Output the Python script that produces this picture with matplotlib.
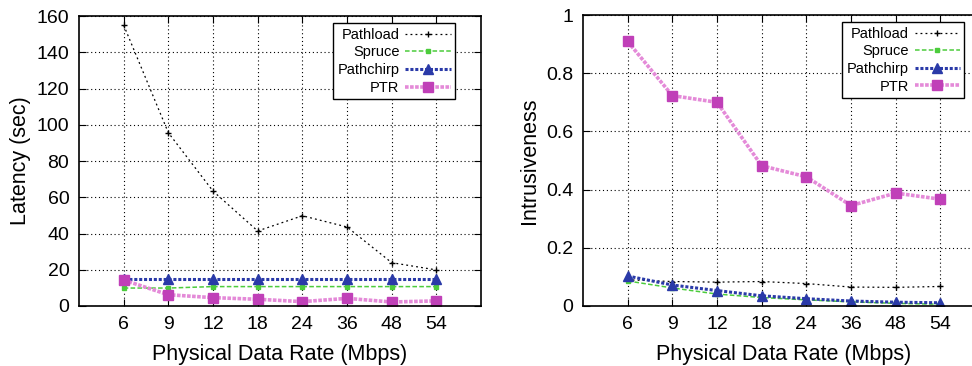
import matplotlib

matplotlib.use("Agg")
import matplotlib.pyplot as plt
from matplotlib.ticker import FormatStrFormatter, FuncFormatter
import numpy as np

rates = ["6", "9", "12", "18", "24", "36", "48", "54"]

lat_pathload = [155, 95.6, 63.4, 41.4, 49.8, 43.6, 23.9, 19.9]
lat_spruce = [9.9, 9.9, 10.7, 10.7, 10.7, 10.7, 10.7, 10.7]
lat_pathchirp = [14.7, 14.7, 14.7, 14.7, 14.7, 14.7, 14.7, 14.7]
lat_ptr = [14.3, 6.2, 4.6, 3.7, 2.4, 4.2, 2.2, 2.8]

int_pathload = [0.09, 0.084, 0.082, 0.084, 0.077, 0.065, 0.064, 0.067]
int_spruce = [0.086, 0.062, 0.041, 0.029, 0.021, 0.014, 0.009, 0.006]
int_pathchirp = [0.103, 0.072, 0.053, 0.035, 0.025, 0.017, 0.013, 0.011]
int_ptr = [0.909, 0.723, 0.70, 0.482, 0.444, 0.345, 0.388, 0.367]

plt.rcParams["font.family"] = ["Liberation Sans", "DejaVu Sans"]

STYLES = {
    "Pathload": dict(color="black", ls=(0, (1.5, 2.5)), lw=0.9, marker="+", ms=5,
                     mew=1.0),
    "Spruce": dict(color="#4ccc3c", ls=(0, (3, 1.5)), lw=1.1, marker="s", ms=3.5,
                   mfc="#4ccc3c", mec="#4ccc3c"),
    "Pathchirp": dict(color="#2a3aa8", ls=(0, (1, 0.6)), lw=2.2, marker="^", ms=7,
                      mfc="#2a3aa8", mec="#2a3aa8"),
    "PTR": dict(color="#e48ad8", ls=(0, (1, 0.4)), lw=2.6, marker="s", ms=7,
                mfc="#c040b8", mec="#c040b8"),
}


def draw(ax, series, ylim, yticks, ylabel, fmt, leg_x):
    x = np.arange(len(rates))
    for name, ys in series:
        ax.plot(x, ys, label=name, **STYLES[name])
    ax.set_xlim(-1, 8)
    ax.set_ylim(*ylim)
    ax.set_xticks(x)
    ax.set_xticklabels(rates)
    ax.set_yticks(yticks)
    ax.yaxis.set_major_formatter(fmt)
    ax.grid(True, color="black", ls=(0, (1, 2.5)), lw=0.8)
    ax.tick_params(direction="in", length=5, width=0.8, top=True, right=True,
                   labelsize=14, pad=7)
    for s in ax.spines.values():
        s.set_linewidth(1.2)
    ax.set_xlabel("Physical Data Rate (Mbps)", fontsize=15.5, labelpad=8)
    ax.set_ylabel(ylabel, fontsize=15.5, labelpad=4)
    leg = ax.legend(loc="upper right", bbox_to_anchor=(leg_x, 0.975),
                    fontsize=10.5, markerfirst=False,
                    fancybox=False, framealpha=1, edgecolor="black",
                    handlelength=3.1, handletextpad=0.4, labelspacing=0.25,
                    borderpad=0.3, borderaxespad=0.0)
    leg.get_frame().set_linewidth(1.0)
    return ax


fig = plt.figure(figsize=(9.72, 3.66), dpi=100)
ax1 = fig.add_axes([0.0813, 0.164, 0.4136, 0.792])
ax2 = fig.add_axes([0.5998, 0.164, 0.4136, 0.795])

draw(ax1, [("Pathload", lat_pathload), ("Spruce", lat_spruce),
           ("Pathchirp", lat_pathchirp), ("PTR", lat_ptr)],
     (0, 160), np.arange(0, 161, 20), "Latency (sec)", FormatStrFormatter("%d"),
     0.935)
draw(ax2, [("Pathload", int_pathload), ("Spruce", int_spruce),
           ("Pathchirp", int_pathchirp), ("PTR", int_ptr)],
     (0, 1), np.arange(0, 1.01, 0.2), "Intrusiveness",
     FuncFormatter(lambda v, _: f"{v:g}"), 0.948)

fig.savefig("out.png", dpi=100)
